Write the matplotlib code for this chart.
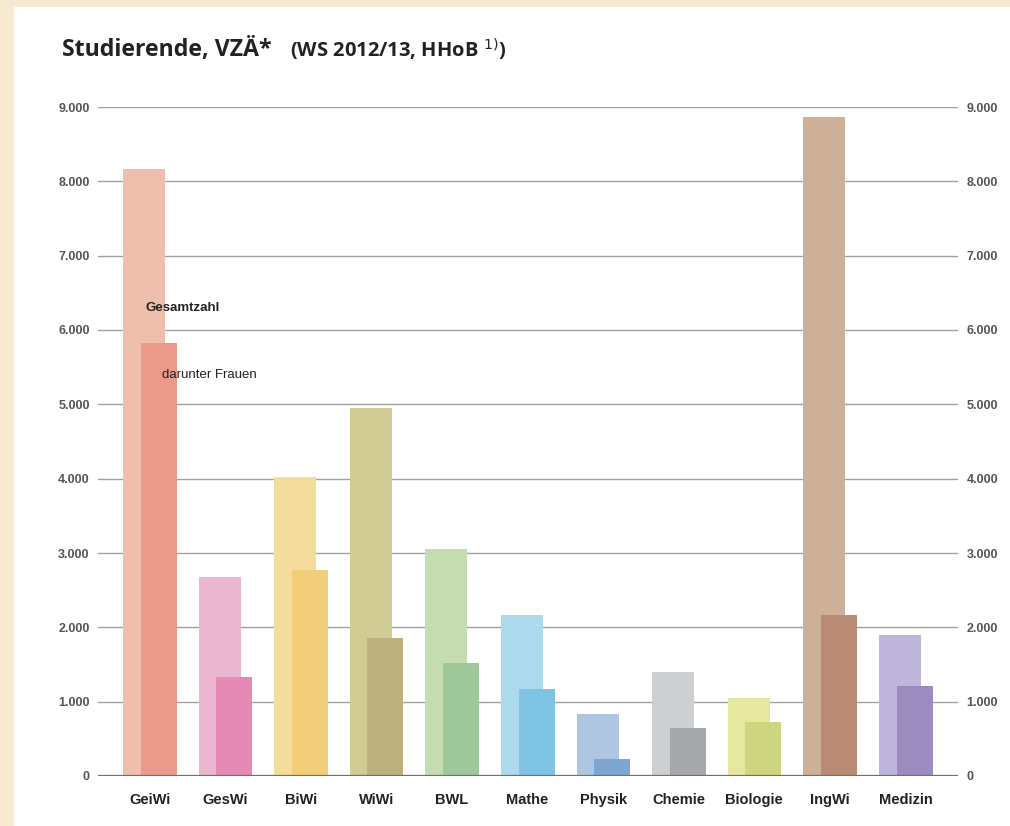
import matplotlib
matplotlib.use("Agg")
import matplotlib.pyplot as plt
from matplotlib.patches import Rectangle
import numpy as np

categories = ["GeiWi", "GesWi", "BiWi", "WiWi", "BWL", "Mathe", "Physik",
              "Chemie", "Biologie", "IngWi", "Medizin"]
gesamt = [8170, 2680, 4020, 4950, 3060, 2170, 830, 1400, 1050, 8870, 1900]
frauen = [5830, 1330, 2770, 1860, 1520, 1170, 230, 650, 730, 2170, 1210]
col_gesamt = ["#EFBFAE", "#EBB7D0", "#F3DC9C", "#D0CC93", "#C5DBB0", "#ADD9EC",
              "#AEC6E1", "#CDCFD1", "#E7E8A0", "#CDB097", "#BDB5DA"]
col_frauen = ["#EA998A", "#E48AB5", "#F2CE7A", "#BDB27E", "#9EC89A", "#80C4E3",
              "#7BA6D2", "#A5A8AB", "#CDD57F", "#BB8A75", "#9B8BBE"]
yticks = [0, 1000, 2000, 3000, 4000, 5000, 6000, 7000, 8000, 9000]
ytick_labels = ["0", "1.000", "2.000", "3.000", "4.000", "5.000", "6.000",
                "7.000", "8.000", "9.000"]

W, H = 1010, 826
fig = plt.figure(figsize=(W / 100, H / 100), dpi=100)
fig.patch.set_facecolor("#F6EBD0")
fig.add_artist(Rectangle((14 / W, 0), 1 - 14 / W, 1 - 7 / H,
                         transform=fig.transFigure, facecolor="white",
                         edgecolor="none", zorder=0))

cond = ["Liberation Sans Narrow", "Liberation Sans", "DejaVu Sans"]

ax_l, ax_r = 98, 958
ax_b, ax_t = 776, 107
ax = fig.add_axes([ax_l / W, (H - ax_b) / H, (ax_r - ax_l) / W, (ax_b - ax_t) / H])
ax.set_facecolor("none")
step = 75.6
x0 = 149.5
ax.set_xlim((ax_l - x0) / step, (ax_r - x0) / step)
ax.set_ylim(0, 9000)

x = np.arange(len(categories))
ax.bar(x - 5.5 / step, gesamt, width=42 / step, color=col_gesamt, zorder=2)
ax.bar(x + 9 / step, frauen, width=36 / step, color=col_frauen, zorder=3)

for v in yticks[1:]:
    ax.axhline(v, color="#A0A0A0", lw=1.0, zorder=1)
ax.axhline(0, color="#707070", lw=1.6, zorder=4)

for s in ax.spines.values():
    s.set_visible(False)
ax.set_xticks(x)
ax.set_xticklabels(categories, fontsize=10.5, family=cond, color="#222222",
                   fontweight="bold")
ax.tick_params(axis="x", length=0, pad=12)
ax.set_yticks(yticks)
ax.set_yticklabels(ytick_labels, fontsize=9, family=cond, color="#555555",
                   fontweight="bold")
ax.tick_params(axis="y", length=0, pad=6, labelright=True)

ax.text(0 - 4.5 / step, 6300, "Gesamtzahl", fontsize=9.5, family=cond,
        color="#222222", ha="left", va="center", fontweight="bold", zorder=5)
ax.text(0 + 13 / step, 5390, "darunter Frauen", fontsize=9.5, family=cond,
        color="#222222", ha="left", va="center", zorder=5)

fig.text(62 / W, 1 - 50 / H, "Studierende, VZÄ*", fontsize=16.7, fontweight="bold",
         family=["Open Sans", "DejaVu Sans"], color="#222222", ha="left", va="center")
fig.text(290 / W, 1 - 50 / H, "(WS 2012/13, HHoB $^{1)}$)", fontsize=14.5,
         fontweight="bold", family=["Open Sans", "DejaVu Sans"], color="#222222",
         ha="left", va="center")

fig.savefig("out.png", dpi=100, facecolor=fig.get_facecolor())
